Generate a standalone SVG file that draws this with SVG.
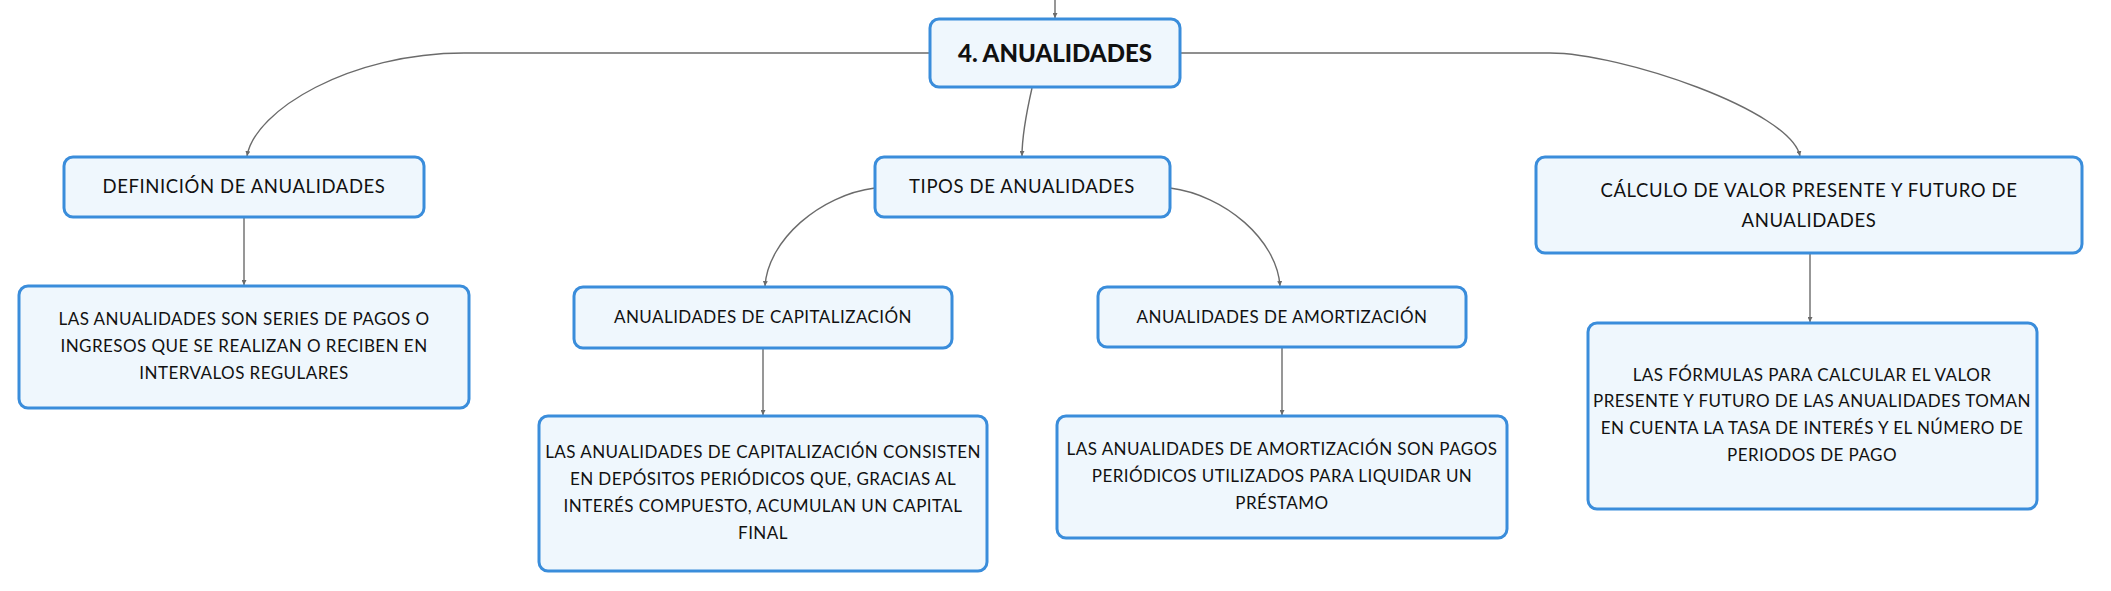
<svg xmlns="http://www.w3.org/2000/svg" width="2111" height="591" viewBox="0 0 2111 591">
<style>
.box{fill:#eff7fd;stroke:#3a8ddb;stroke-width:3}
.t{font-family:Lato,"Open Sans","Liberation Sans",sans-serif;fill:#111;text-anchor:middle}
.t18{font-size:18.5px;letter-spacing:0.6px}
.t17{font-size:17px;letter-spacing:0.45px}
.tb{font-size:24px;font-weight:900}
.c{fill:none;stroke:#6b6b6b;stroke-width:1.4}
</style>
<defs>
<marker id="ar" markerUnits="userSpaceOnUse" markerWidth="6" markerHeight="5" refX="5" refY="2.5" orient="auto">
<path d="M0,0 L5,2.5 L0,5 z" fill="#6b6b6b"/>
</marker>
</defs>
<rect width="2111" height="591" fill="#ffffff"/>
<g id="connectors">
<path class="c" d="M1055 0 L1055 18" marker-end="url(#ar)"/>
<path class="c" d="M930 53 L464 53 C350 53 255 110 247 156" marker-end="url(#ar)"/>
<path class="c" d="M1180 53 L1550 53 C1620 53 1790 110 1800 156" marker-end="url(#ar)"/>
<path class="c" d="M1032 88 C1027 110 1022 140 1022 156" marker-end="url(#ar)"/>
<path class="c" d="M875 188 C820 195 768 240 765 286" marker-end="url(#ar)"/>
<path class="c" d="M1170 188 C1225 195 1277 240 1280 286" marker-end="url(#ar)"/>
<path class="c" d="M244 217 L244 285" marker-end="url(#ar)"/>
<path class="c" d="M763 348 L763 415" marker-end="url(#ar)"/>
<path class="c" d="M1282 347 L1282 415" marker-end="url(#ar)"/>
<path class="c" d="M1810 253 L1810 322" marker-end="url(#ar)"/>
</g>
<g id="n-main">
<rect class="box" x="930" y="19" width="250" height="68" rx="9"/>
<text class="t tb" x="1055" y="62">4. ANUALIDADES</text>
</g>
<g id="n-def">
<rect class="box" x="64" y="157" width="360" height="60" rx="9"/>
<text class="t t18" x="244" y="193">DEFINICIÓN DE ANUALIDADES</text>
</g>
<g id="n-tipos">
<rect class="box" x="875" y="157" width="295" height="60" rx="9"/>
<text class="t t18" x="1022" y="193">TIPOS DE ANUALIDADES</text>
</g>
<g id="n-calc">
<rect class="box" x="1536" y="157" width="546" height="96" rx="9"/>
<text class="t t18" x="1809" y="197">CÁLCULO DE VALOR PRESENTE Y FUTURO DE</text>
<text class="t t18" x="1809" y="227">ANUALIDADES</text>
</g>
<g id="n-def-desc">
<rect class="box" x="19" y="286" width="450" height="122" rx="9"/>
<text class="t t17" x="244" y="325">LAS ANUALIDADES SON SERIES DE PAGOS O</text>
<text class="t t17" x="244" y="352">INGRESOS QUE SE REALIZAN O RECIBEN EN</text>
<text class="t t17" x="244" y="379">INTERVALOS REGULARES</text>
</g>
<g id="n-cap">
<rect class="box" x="574" y="287" width="378" height="61" rx="9"/>
<text class="t t17" x="763" y="323">ANUALIDADES DE CAPITALIZACIÓN</text>
</g>
<g id="n-amort">
<rect class="box" x="1098" y="287" width="368" height="60" rx="9"/>
<text class="t t17" x="1282" y="323">ANUALIDADES DE AMORTIZACIÓN</text>
</g>
<g id="n-cap-desc">
<rect class="box" x="539" y="416" width="448" height="155" rx="9"/>
<text class="t t17" x="763" y="458">LAS ANUALIDADES DE CAPITALIZACIÓN CONSISTEN</text>
<text class="t t17" x="763" y="485">EN DEPÓSITOS PERIÓDICOS QUE, GRACIAS AL</text>
<text class="t t17" x="763" y="512">INTERÉS COMPUESTO, ACUMULAN UN CAPITAL</text>
<text class="t t17" x="763" y="539">FINAL</text>
</g>
<g id="n-amort-desc">
<rect class="box" x="1057" y="416" width="450" height="122" rx="9"/>
<text class="t t17" x="1282" y="455">LAS ANUALIDADES DE AMORTIZACIÓN SON PAGOS</text>
<text class="t t17" x="1282" y="482">PERIÓDICOS UTILIZADOS PARA LIQUIDAR UN</text>
<text class="t t17" x="1282" y="509">PRÉSTAMO</text>
</g>
<g id="n-calc-desc">
<rect class="box" x="1588" y="323" width="449" height="186" rx="9"/>
<text class="t t17" x="1812" y="381">LAS FÓRMULAS PARA CALCULAR EL VALOR</text>
<text class="t t17" x="1812" y="407">PRESENTE Y FUTURO DE LAS ANUALIDADES TOMAN</text>
<text class="t t17" x="1812" y="434">EN CUENTA LA TASA DE INTERÉS Y EL NÚMERO DE</text>
<text class="t t17" x="1812" y="461">PERIODOS DE PAGO</text>
</g>
</svg>
